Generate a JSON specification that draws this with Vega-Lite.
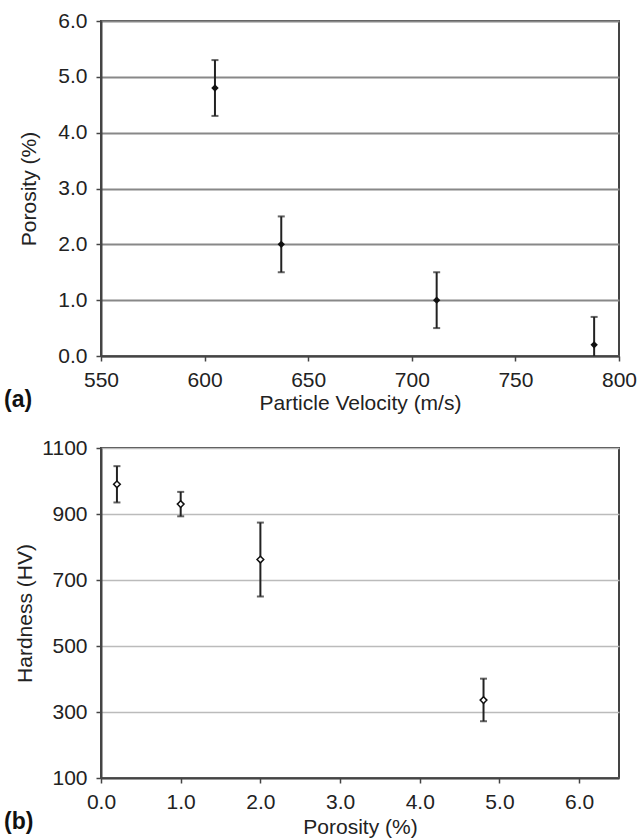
{
  "$schema": "https://vega.github.io/schema/vega-lite/v6.json",
  "background": "white",
  "padding": {"left": 3, "top": 9, "right": 0, "bottom": 0},
  "bounds": "flush",
  "spacing": 92,
  "config": {
    "font": "Liberation Sans",
    "view": {"stroke": "#444", "strokeWidth": 2},
    "axis": {
      "labelFont": "Liberation Sans", "labelFontSize": 21, "labelColor": "#222",
      "titleFont": "Liberation Sans", "titleFontSize": 21, "titleFontWeight": "normal", "titleColor": "#222",
      "domainColor": "#444", "domainWidth": 2, "tickColor": "#444", "tickWidth": 1.5, "tickSize": 5
    }
  },
  "vconcat": [
    {
      "width": 518, "height": 335,
      "title": {"text": "(a)", "orient": "bottom", "anchor": "start", "frame": "group", "fontSize": 23, "fontWeight": "bold", "color": "#111", "dx": -97, "dy": -28},
      "data": {"values": [
        {"velocity": 605, "p": 4.8, "lo": 4.3, "hi": 5.3},
        {"velocity": 637, "p": 2.0, "lo": 1.5, "hi": 2.5},
        {"velocity": 712, "p": 1.0, "lo": 0.5, "hi": 1.5},
        {"velocity": 788, "p": 0.2, "lo": -0.3, "hi": 0.7}
      ]},
      "encoding": {
        "x": {"field": "velocity", "type": "quantitative", "scale": {"domain": [550, 800], "nice": false, "zero": false},
              "axis": {"title": "Particle Velocity (m/s)", "values": [550, 600, 650, 700, 750, 800], "grid": false, "labelPadding": 8, "titlePadding": 2, "labelFlush": false}}
      },
      "layer": [
        {
          "mark": {"type": "rule", "color": "#222", "strokeWidth": 2, "clip": true},
          "encoding": {
            "y": {"field": "lo", "type": "quantitative", "scale": {"domain": [0, 6], "nice": false},
                  "axis": {"title": "Porosity (%)", "values": [0, 1, 2, 3, 4, 5, 6], "format": ".1f", "grid": true, "gridColor": "#888", "gridWidth": 2, "labelPadding": 9, "titlePadding": 18}},
            "y2": {"field": "hi"}
          }
        },
        {
          "mark": {"type": "tick", "orient": "horizontal", "color": "#222", "size": 7, "thickness": 2, "clip": true},
          "encoding": {"y": {"field": "hi", "type": "quantitative"}}
        },
        {
          "mark": {"type": "tick", "orient": "horizontal", "color": "#222", "size": 7, "thickness": 2, "clip": true},
          "encoding": {"y": {"field": "lo", "type": "quantitative"}}
        },
        {
          "mark": {"type": "point", "shape": "diamond", "filled": true, "color": "#111", "size": 55, "opacity": 1},
          "encoding": {"y": {"field": "p", "type": "quantitative"}}
        }
      ]
    },
    {
      "width": 518, "height": 330,
      "title": {"text": "(b)", "orient": "bottom", "anchor": "start", "frame": "group", "fontSize": 23, "fontWeight": "bold", "color": "#111", "dx": -97, "dy": -30},
      "data": {"values": [
        {"porosity": 0.2, "hv": 990, "lo": 935, "hi": 1045},
        {"porosity": 1.0, "hv": 930, "lo": 893, "hi": 967},
        {"porosity": 2.0, "hv": 762, "lo": 650, "hi": 874},
        {"porosity": 4.8, "hv": 336, "lo": 272, "hi": 401}
      ]},
      "encoding": {
        "x": {"field": "porosity", "type": "quantitative", "scale": {"domain": [0, 6.5], "nice": false, "zero": false},
              "axis": {"title": "Porosity (%)", "values": [0, 1, 2, 3, 4, 5, 6], "format": ".1f", "grid": false, "labelPadding": 8, "titlePadding": 4, "labelFlush": false}}
      },
      "layer": [
        {
          "mark": {"type": "rule", "color": "#222", "strokeWidth": 2},
          "encoding": {
            "y": {"field": "lo", "type": "quantitative", "scale": {"domain": [100, 1100], "nice": false, "zero": false},
                  "axis": {"title": "Hardness (HV)", "values": [100, 300, 500, 700, 900, 1100], "format": "d", "grid": true, "gridColor": "#bbb", "gridWidth": 1.5, "labelPadding": 9, "titlePadding": 6}},
            "y2": {"field": "hi"}
          }
        },
        {
          "mark": {"type": "tick", "orient": "horizontal", "color": "#222", "size": 7, "thickness": 2},
          "encoding": {"y": {"field": "hi", "type": "quantitative"}}
        },
        {
          "mark": {"type": "tick", "orient": "horizontal", "color": "#222", "size": 7, "thickness": 2},
          "encoding": {"y": {"field": "lo", "type": "quantitative"}}
        },
        {
          "mark": {"type": "point", "shape": "diamond", "filled": true, "fill": "white", "stroke": "#111", "strokeWidth": 1.5, "size": 45, "opacity": 1},
          "encoding": {"y": {"field": "hv", "type": "quantitative"}}
        }
      ]
    }
  ]
}
